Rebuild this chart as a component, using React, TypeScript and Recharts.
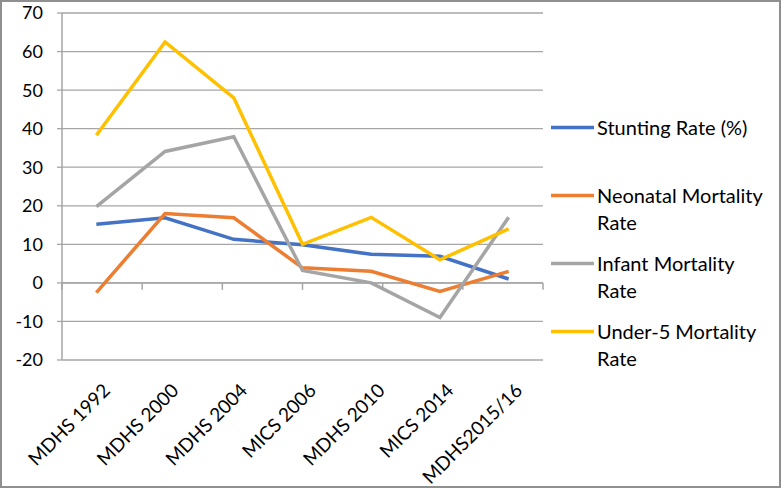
import React from 'react';
import { LineChart, Line, XAxis, YAxis, CartesianGrid, ReferenceLine } from 'recharts';

const categories = ['MDHS 1992', 'MDHS 2000', 'MDHS 2004', 'MICS 2006', 'MDHS 2010', 'MICS 2014', 'MDHS2015/16'];
const stunting = [15.2, 16.9, 11.3, 9.9, 7.4, 6.9, 1.0];
const neonatal = [-2.5, 18.0, 16.9, 3.9, 3.0, -2.2, 3.0];
const infant = [19.8, 34.1, 37.9, 3.2, 0.0, -9.0, 17.0];
const under5 = [38.3, 62.5, 48.0, 10.0, 17.0, 6.0, 14.0];
const yTicks = [-20, -10, 0, 10, 20, 30, 40, 50, 60, 70];
const boundaries = [0, 1, 2, 3, 4, 5, 6, 7];

const series = [
  { key: 'stunting', name: 'Stunting Rate (%)', color: '#4472C4', values: stunting },
  { key: 'neonatal', name: 'Neonatal Mortality Rate', color: '#ED7D31', values: neonatal },
  { key: 'infant', name: 'Infant Mortality Rate', color: '#A5A5A5', values: infant },
  { key: 'under5', name: 'Under-5 Mortality Rate', color: '#FFC000', values: under5 },
];

const data = categories.map((c, i) => {
  const row: any = { cat: c };
  series.forEach((s) => { row[s.key] = s.values[i]; });
  return row;
});

const FONT = 'Lato, "Open Sans", sans-serif';
const GRID = '#a6a6a6';

const XTick = (props: any) => {
  const { x, y, payload } = props;
  return (
    <g transform={`translate(${x},${y}) rotate(-45)`}>
      <text x={-12} y={33} textAnchor="end" fontSize={19} fontFamily={FONT} fill="#000">
        {payload.value}
      </text>
    </g>
  );
};

const LegendContent = () => (
  <div style={{ position: 'absolute', left: 550, top: 114, width: 230, fontFamily: FONT, fontSize: 20, color: '#000' }}>
    {series.map((s) => (
      <div key={s.key} style={{ height: 68, display: 'flex', alignItems: 'flex-start' }}>
        <svg width={47} height={27} style={{ flex: 'none' }}>
          <line x1={1} y1={13.5} x2={44} y2={13.5} stroke={s.color} strokeWidth={3.5} />
        </svg>
        <div style={{ width: 178, lineHeight: '27px', textAlign: 'left' }}>{s.name}</div>
      </div>
    ))}
  </div>
);

export default function App() {
  return (
    <div style={{ position: 'absolute', left: 0, top: 0, width: 781, height: 488, background: '#fff' }}>
      <LineChart width={781} height={488} data={data} margin={{ top: 13, right: 238, bottom: 0, left: 0 }}>
        <CartesianGrid vertical={false} stroke={GRID} strokeWidth={1.3} />
        <XAxis
          dataKey="cat"
          scale="band"
          height={128}
          axisLine={false}
          tickLine={false}
          interval={0}
          tickSize={0}
          tickMargin={0}
          tick={<XTick />}
        />
        <XAxis xAxisId="b" type="number" domain={[0, 7]} hide />
        <YAxis
          domain={[-20, 70]}
          ticks={yTicks}
          width={62}
          interval={0}
          axisLine={{ stroke: GRID, strokeWidth: 1.5 }}
          tickLine={{ stroke: GRID, strokeWidth: 1.3 }}
          tickSize={5}
          tickMargin={14}
          tick={{ fontSize: 18, fill: '#000', fontFamily: FONT }}
        />
        <ReferenceLine y={0} stroke={GRID} strokeWidth={1.5} />
        {boundaries.map((b) => (
          <ReferenceLine
            key={b}
            xAxisId="b"
            segment={[{ x: b, y: 0 }, { x: b, y: -1.8 }]}
            stroke={GRID}
            strokeWidth={1.5}
          />
        ))}
        {series.map((s) => (
          <Line
            key={s.key}
            type="linear"
            dataKey={s.key}
            name={s.name}
            stroke={s.color}
            strokeWidth={3.5}
            dot={false}
            activeDot={false}
            isAnimationActive={false}
          />
        ))}
      </LineChart>
      <LegendContent />
      <div style={{ position: 'absolute', left: 0, top: 0, width: 781, height: 488, boxSizing: 'border-box', border: '2px solid #8f8f8f', pointerEvents: 'none' }} />
    </div>
  );
}
